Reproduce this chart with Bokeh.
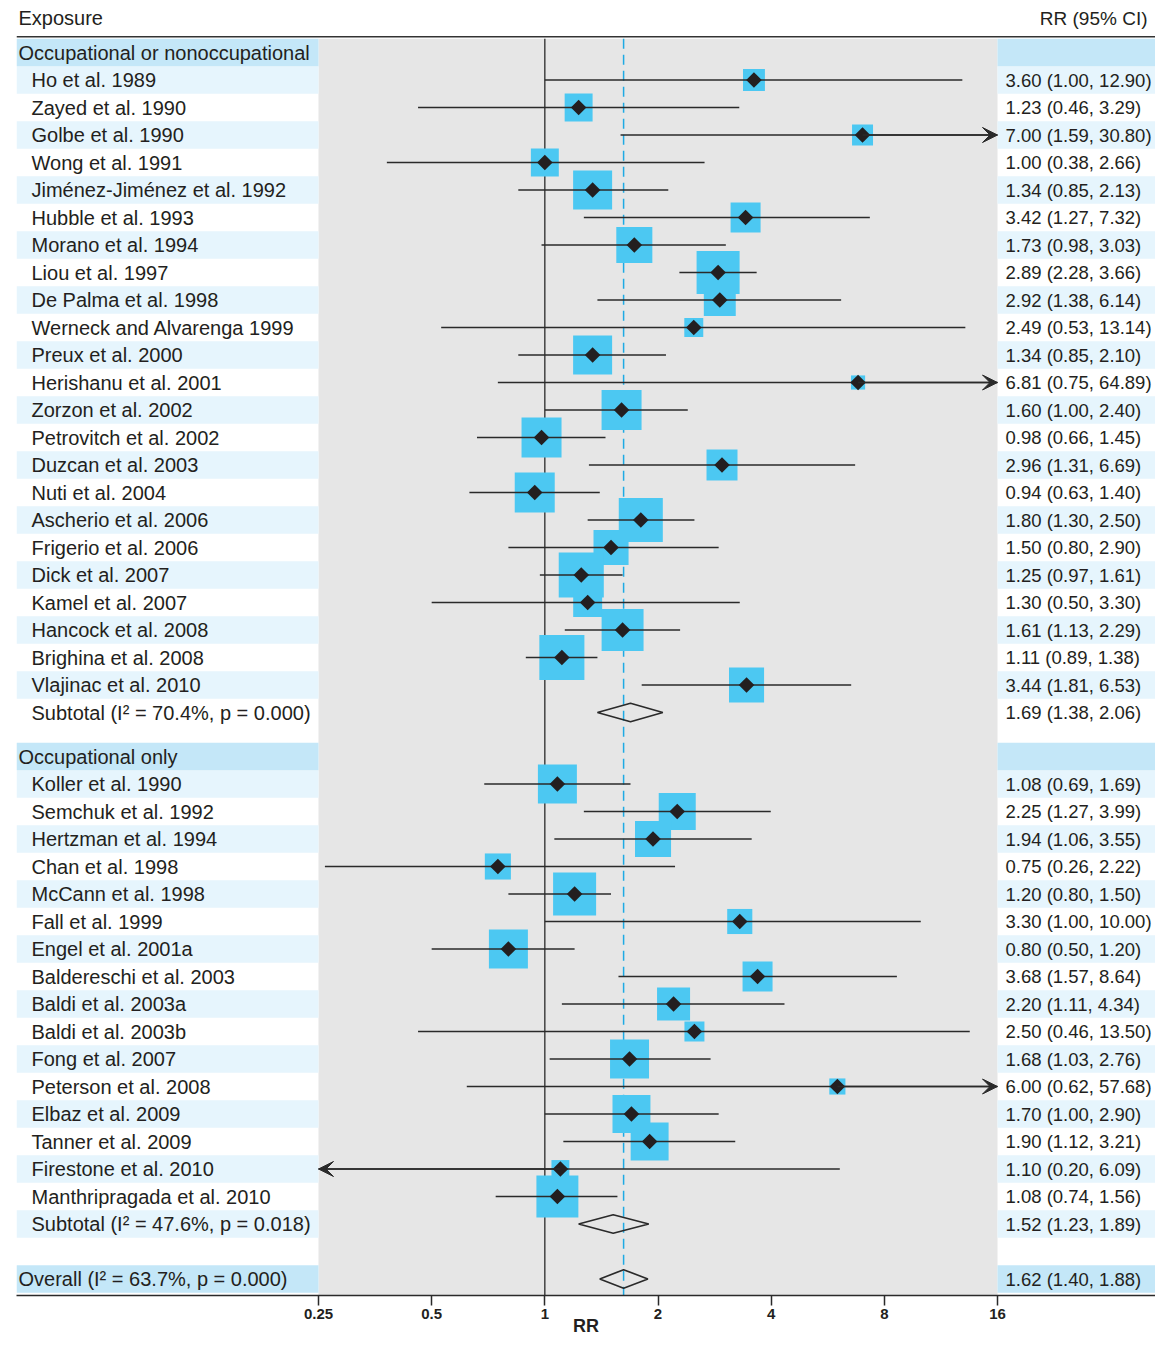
import math
from bokeh.plotting import figure
from bokeh.models import Range1d, FixedTicker, ColumnDataSource, Arrow, VeeHead
from bokeh.core.properties import value
from bokeh.embed import file_html
from bokeh.resources import INLINE

# ---------------- data ----------------
group1_title = "Occupational or nonoccupational"
studies1 = ["Ho et al. 1989", "Zayed et al. 1990", "Golbe et al. 1990", "Wong et al. 1991",
            "Jiménez-Jiménez et al. 1992", "Hubble et al. 1993", "Morano et al. 1994",
            "Liou et al. 1997", "De Palma et al. 1998", "Werneck and Alvarenga 1999",
            "Preux et al. 2000", "Herishanu et al. 2001", "Zorzon et al. 2002",
            "Petrovitch et al. 2002", "Duzcan et al. 2003", "Nuti et al. 2004",
            "Ascherio et al. 2006", "Frigerio et al. 2006", "Dick et al. 2007",
            "Kamel et al. 2007", "Hancock et al. 2008", "Brighina et al. 2008",
            "Vlajinac et al. 2010"]
rr1 = [3.60, 1.23, 7.00, 1.00, 1.34, 3.42, 1.73, 2.89, 2.92, 2.49, 1.34, 6.81, 1.60,
       0.98, 2.96, 0.94, 1.80, 1.50, 1.25, 1.30, 1.61, 1.11, 3.44]
lo1 = [1.00, 0.46, 1.59, 0.38, 0.85, 1.27, 0.98, 2.28, 1.38, 0.53, 0.85, 0.75, 1.00,
       0.66, 1.31, 0.63, 1.30, 0.80, 0.97, 0.50, 1.13, 0.89, 1.81]
hi1 = [12.90, 3.29, 30.80, 2.66, 2.13, 7.32, 3.03, 3.66, 6.14, 13.14, 2.10, 64.89, 2.40,
       1.45, 6.69, 1.40, 2.50, 2.90, 1.61, 3.30, 2.29, 1.38, 6.53]
weight1 = [4.8, 7.8, 4.4, 7.8, 15.2, 9.0, 13.0, 18.5, 10.2, 3.6, 15.2, 2.0, 16.0,
           16.0, 9.6, 16.0, 19.4, 12.3, 20.3, 8.4, 17.6, 20.3, 12.3]
subtotal1 = (1.69, 1.38, 2.06)
subtotal1_label = "Subtotal (I² = 70.4%, p = 0.000)"

group2_title = "Occupational only"
studies2 = ["Koller et al. 1990", "Semchuk et al. 1992", "Hertzman et al. 1994",
            "Chan et al. 1998", "McCann et al. 1998", "Fall et al. 1999",
            "Engel et al. 2001a", "Baldereschi et al. 2003", "Baldi et al. 2003a",
            "Baldi et al. 2003b", "Fong et al. 2007", "Peterson et al. 2008",
            "Elbaz et al. 2009", "Tanner et al. 2009", "Firestone et al. 2010",
            "Manthripragada et al. 2010"]
rr2 = [1.08, 2.25, 1.94, 0.75, 1.20, 3.30, 0.80, 3.68, 2.20, 2.50, 1.68, 6.00, 1.70,
       1.90, 1.10, 1.08]
lo2 = [0.69, 1.27, 1.06, 0.26, 0.80, 1.00, 0.50, 1.57, 1.11, 0.46, 1.03, 0.62, 1.00,
       1.12, 0.20, 0.74]
hi2 = [1.69, 3.99, 3.55, 2.22, 1.50, 10.00, 1.20, 8.64, 4.34, 13.50, 2.76, 57.68, 2.90,
       3.21, 6.09, 1.56]
weight2 = [15.2, 13.7, 13.0, 6.8, 18.5, 6.3, 15.2, 9.0, 10.9, 4.0, 15.2, 2.6, 14.4,
           14.4, 3.2, 17.6]
subtotal2 = (1.52, 1.23, 1.89)
subtotal2_label = "Subtotal (I² = 47.6%, p = 0.018)"

overall = (1.62, 1.40, 1.88)
overall_label = "Overall (I² = 63.7%, p = 0.000)"

tick_values = [0.25, 0.5, 1, 2, 4, 8, 16]
tick_labels = ["0.25", "0.5", "1", "2", "4", "8", "16"]
x_axis_label = "RR"
left_header = "Exposure"
right_header = "RR (95% CI)"

# ---------------- layout / style ----------------
FONT = "Liberation Sans"
TXT = "#231f20"
GRAY = "#e6e6e6"
LIGHT = "#e6f5fd"
DEEP = "#c4e7f8"
BOX = "#4cc8f2"
DASH = "#1eaae4"
INK = "#2a2a2a"

XMIN, XMAX = tick_values[0], tick_values[-1]
FRAME_L, FRAME_R = 16, 1155
PX_MIN, PX_MAX = 318, 997
PX_OCT = (PX_MAX - PX_MIN) / math.log2(XMAX / XMIN)
x_start = XMIN * 2 ** (-(PX_MIN - FRAME_L) / PX_OCT)
x_end = XMAX * 2 ** ((FRAME_R - PX_MAX) / PX_OCT)

GROUP_GAP = 0.6
OVERALL_GAP = 1.0
Y_TOP, Y_BOTTOM = -1.6, 45.2

def fmt(r, l, h):
    return f"{r:.2f} ({l:.2f}, {h:.2f})"

studies = []
subs = []
headers = []
stripes = []

y = 0.0
headers.append((group1_title, y))
for i, name in enumerate(studies1):
    y += 1
    studies.append(dict(name=name, rr=rr1[i], lo=lo1[i], hi=hi1[i], w=weight1[i], y=y))
    if (i + 1) % 2 == 1:
        stripes.append(y)
y += 1
subs.append(dict(name=subtotal1_label, rr=subtotal1[0], lo=subtotal1[1], hi=subtotal1[2], y=y))
if (len(studies1) + 1) % 2 == 1:
    stripes.append(y)
y += 1 + GROUP_GAP
headers.append((group2_title, y))
for i, name in enumerate(studies2):
    y += 1
    studies.append(dict(name=name, rr=rr2[i], lo=lo2[i], hi=hi2[i], w=weight2[i], y=y))
    if (i + 1) % 2 == 1:
        stripes.append(y)
y += 1
subs.append(dict(name=subtotal2_label, rr=subtotal2[0], lo=subtotal2[1], hi=subtotal2[2], y=y))
if (len(studies2) + 1) % 2 == 1:
    stripes.append(y)
y += 1 + OVERALL_GAP
overall_row = dict(name=overall_label, rr=overall[0], lo=overall[1], hi=overall[2], y=y)
deep_rows = [h[1] for h in headers] + [y]

# ---------------- figure ----------------
p = figure(width=1155, height=1340, x_axis_type="log",
           x_range=Range1d(x_start, x_end), y_range=Range1d(Y_BOTTOM, Y_TOP),
           output_backend="svg", toolbar_location=None,
           min_border_left=FRAME_L, min_border_right=0, min_border_top=8, min_border_bottom=45)
p.outline_line_color = None
p.background_fill_color = "white"
p.border_fill_color = "white"
p.xgrid.visible = False
p.ygrid.visible = False
p.yaxis.visible = False

ax = p.xaxis[0]
ax.ticker = FixedTicker(ticks=tick_values)
ax.major_label_overrides = {v: s for v, s in zip(tick_values, tick_labels)}
ax.minor_tick_line_color = None
ax.major_tick_in = 0
ax.major_tick_out = 10
ax.major_tick_line_width = 1.5
ax.major_tick_line_color = INK
ax.axis_line_color = INK
ax.axis_line_width = 1.5
ax.major_label_standoff = 3
ax.major_label_text_font = FONT
ax.major_label_text_font_style = "bold"
ax.major_label_text_font_size = "15px"
ax.major_label_text_color = TXT
ax.axis_label = x_axis_label
ax.axis_label_text_font = FONT
ax.axis_label_text_font_style = "bold"
ax.axis_label_text_font_size = "18px"
ax.axis_label_text_color = TXT
ax.axis_label_standoff = -6

# gray plot region
p.quad(left=[XMIN], right=[XMAX], top=[-0.5], bottom=[Y_BOTTOM + 1], fill_color=GRAY, line_color=None)

# stripes
for rows, col in ((stripes, LIGHT), (deep_rows, DEEP)):
    n = len(rows)
    p.quad(left=[x_start] * n, right=[XMIN] * n,
           top=[s - 0.5 for s in rows], bottom=[s + 0.5 for s in rows],
           fill_color=col, line_color=None)
    p.quad(left=[XMAX] * n, right=[x_end] * n,
           top=[s - 0.5 for s in rows], bottom=[s + 0.5 for s in rows],
           fill_color=col, line_color=None)

# header rule
p.segment(x0=[x_start], x1=[x_end], y0=[-0.57], y1=[-0.57], line_color="#333333", line_width=1.5)

# reference lines
p.segment(x0=[1], x1=[1], y0=[-0.5], y1=[Y_BOTTOM + 1], line_color=INK, line_width=1.3)
p.segment(x0=[overall[0]], x1=[overall[0]], y0=[-0.5], y1=[Y_BOTTOM + 1],
          line_color=DASH, line_width=1.5, line_dash="10 6")

# study boxes
src = ColumnDataSource(dict(
    rr=[s["rr"] for s in studies],
    y=[s["y"] for s in studies],
    size=[10 * math.sqrt(s["w"]) for s in studies],
    x0=[max(s["lo"], XMIN) for s in studies],
    x1=[min(s["hi"], XMAX) for s in studies],
))
p.scatter(x="rr", y="y", size="size", marker="square", fill_color=BOX, line_color=None, source=src)
p.segment(x0="x0", x1="x1", y0="y", y1="y", line_color=INK, line_width=1.3, source=src)
p.scatter(x="rr", y="y", size=11, marker="square", angle=math.pi / 4,
          fill_color=TXT, line_color=None, source=src)

# arrows for truncated CIs
arr = dict(xs=[], xe=[], y=[])
for s in studies:
    if s["hi"] > XMAX:
        arr["xs"].append(s["rr"]); arr["xe"].append(XMAX); arr["y"].append(s["y"])
    if s["lo"] < XMIN:
        arr["xs"].append(s["rr"]); arr["xe"].append(XMIN); arr["y"].append(s["y"])
asrc = ColumnDataSource(arr)
p.add_layout(Arrow(end=VeeHead(size=15, fill_color=INK, line_color=INK, line_width=1),
                   x_start="xs", x_end="xe", y_start="y", y_end="y",
                   line_color=INK, line_width=1.3, source=asrc))

# summary diamonds
H = 0.34
for s in subs + [overall_row]:
    p.patch(x=[s["lo"], s["rr"], s["hi"], s["rr"]],
            y=[s["y"], s["y"] - H, s["y"], s["y"] + H],
            fill_color=None, line_color=INK, line_width=1.6)

# texts
def add_text(xs, ys, texts, offset, align="left", size="20px"):
    p.text(x=xs, y=ys, text=texts, x_offset=offset, text_align=align, text_baseline="middle",
           text_font=value(FONT), text_font_size=size, text_color=TXT)

add_text([x_start], [-1.24], [left_header], 2)
add_text([x_end], [-1.24], [right_header], -8, align="right", size="19px")
add_text([x_start] * len(headers), [h[1] for h in headers], [h[0] for h in headers], 2)
add_text([x_start] * len(studies), [s["y"] for s in studies], [s["name"] for s in studies], 15)
add_text([x_start] * len(subs), [s["y"] for s in subs], [s["name"] for s in subs], 15)
add_text([x_start], [overall_row["y"]], [overall_row["name"]], 2)

allrows = studies + subs + [overall_row]
add_text([XMAX] * len(allrows), [s["y"] for s in allrows],
         [fmt(s["rr"], s["lo"], s["hi"]) for s in allrows], 8, size="18.5px")

open("out.html", "w").write(file_html(p, INLINE))
